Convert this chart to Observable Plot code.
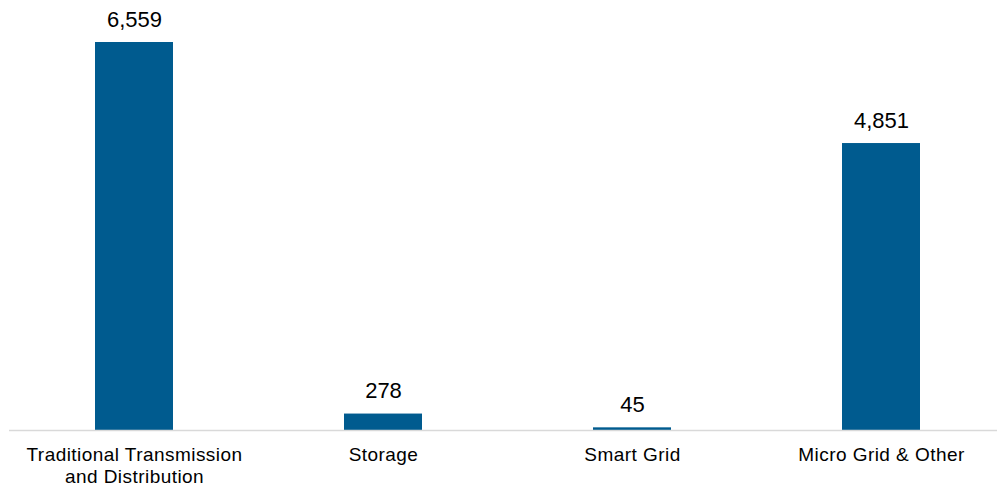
<!DOCTYPE html>
<html>
<head>
<meta charset="utf-8">
<script src="https://cdn.jsdelivr.net/npm/d3@7"></script>
<script src="https://cdn.jsdelivr.net/npm/@observablehq/plot@0.6"></script>
<style>
  html, body { margin: 0; padding: 0; background: #fff; }
  #chart svg { display: block; }
  #chart svg g[aria-label="x-axis tick label"] text { letter-spacing: 0.45px; }
</style>
</head>
<body>
<div id="chart"></div>
<script>
const categories = ["Traditional Transmission and Distribution", "Storage", "Smart Grid", "Micro Grid & Other"];
const values = [6559, 278, 45, 4851];
const tickLabels = ["Traditional Transmission\nand Distribution", "Storage", "Smart Grid", "Micro Grid & Other"];

const data = categories.map((c, i) => ({category: c, value: values[i]}));

const chart = Plot.plot({
  width: 997,
  height: 487,
  marginTop: 42,
  marginBottom: 57,
  marginLeft: 9,
  marginRight: 0,
  style: {fontFamily: "'Liberation Sans', Arial, sans-serif", background: "#fff", overflow: "visible"},
  x: {domain: categories, range: [9, 1006], paddingInner: 0.686, paddingOuter: 0.343, align: 0.5},
  y: {domain: [0, 6559], axis: null},
  marks: [
    Plot.barY(data, {x: "category", y: "value", fill: "#005b8f", style: {filter: "drop-shadow(0px 0px 2px rgba(0,0,0,0.25))"}}),
    Plot.ruleY([0], {stroke: "#d9d9d9", strokeWidth: 1.5}),
    Plot.text(data, {x: "category", y: "value", text: d => d3.format(",")(d.value), lineAnchor: "bottom", dy: -16, fontSize: 22, fill: "#000"}),
    Plot.axisX({tickSize: 0, tickPadding: 15.5, fontSize: 19, lineHeight: 1.14, tickFormat: (d, i) => tickLabels[categories.indexOf(d)], label: null, fill: "#000"})
  ]
});
document.getElementById("chart").appendChild(chart);
</script>
</body>
</html>
